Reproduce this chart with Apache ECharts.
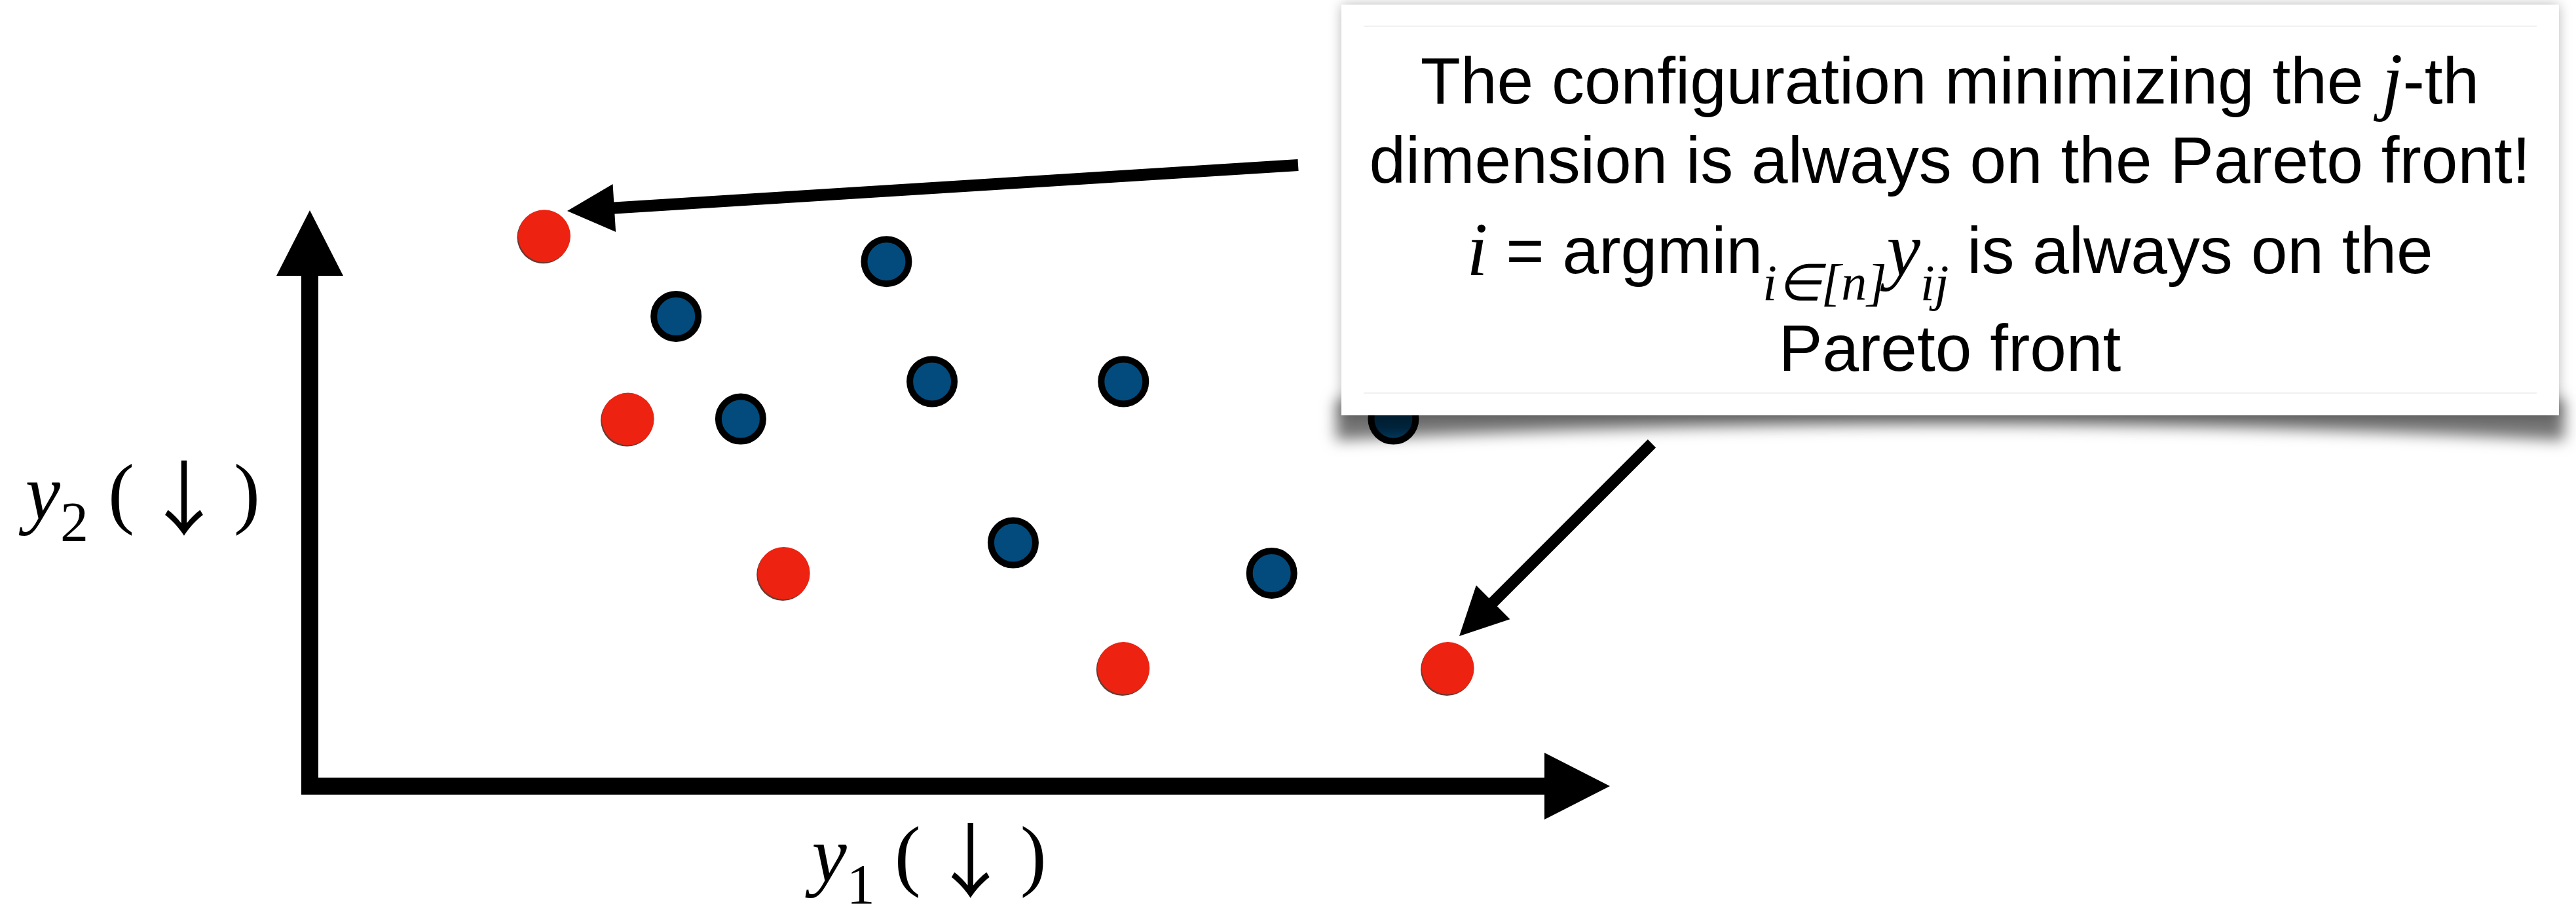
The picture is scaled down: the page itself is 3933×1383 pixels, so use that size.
<!DOCTYPE html>
<html>
<head>
<meta charset="utf-8">
<script src="https://cdn.jsdelivr.net/npm/echarts@6/dist/echarts.min.js"></script>
<style>
html, body { margin: 0; padding: 0; background: #fff; }
#main { width: 3933px; height: 1383px; }
</style>
</head>
<body>
<div id="main"></div>
<script>
// points on the pareto front (red) and dominated points (blue), [y1, y2]
var paretoY1 = [1.85, 2.51, 3.74, 6.42, 8.98];
var paretoY2 = [10.13, 6.76, 3.92, 2.17, 2.17];
var otherY1 = [2.89, 4.55, 3.40, 4.91, 6.42, 8.55, 5.55, 7.59];
var otherY2 = [8.65, 9.66, 6.76, 7.45, 7.45, 6.76, 4.48, 3.92];

// callout text
var calloutLines = [
    '{t|The configuration minimizing the }{m|j}{t|-th}',
    '{t|dimension is always on the Pareto front!}',
    '{m|i}{t| = argmin}{s|i∈[n]}{m|y}{s|ij}{t| is always on the}',
    '{t|Pareto front}'
];

function pairs(xs, ys) {
    var out = [];
    for (var i = 0; i < xs.length; i++) out.push([xs[i], ys[i]]);
    return out;
}

// filled arrow polygon from (x0,y0) to tip (x1,y1)
function arrowShape(x0, y0, x1, y1, w, hl, hw) {
    var dx = x1 - x0, dy = y1 - y0;
    var len = Math.sqrt(dx * dx + dy * dy);
    var ux = dx / len, uy = dy / len, nx = -uy, ny = ux;
    var bx = x1 - ux * hl, by = y1 - uy * hl;
    return [
        [x0 + nx * w / 2, y0 + ny * w / 2],
        [bx + nx * w / 2, by + ny * w / 2],
        [bx + nx * hw / 2, by + ny * hw / 2],
        [x1, y1],
        [bx - nx * hw / 2, by - ny * hw / 2],
        [bx - nx * w / 2, by - ny * w / 2],
        [x0 - nx * w / 2, y0 - ny * w / 2]
    ];
}

// curved shadow under the callout, drawn off screen and shifted back by its shadow
var SHIFT = 3000;
var shadowPts = [[2040, 610 + SHIFT], [3915, 610 + SHIFT]];
for (var k = 0; k <= 40; k++) {
    var sx = 3915 - k * (1875 / 40);
    var u = (sx - 2977) / 938;
    shadowPts.push([sx, 648 + 24 * u * u + SHIFT]);
}

var mathFont = 'Liberation Serif';
var textFont = 'Liberation Sans';

var boxRich = {
    t: { fontFamily: textFont, fontSize: 100, color: '#000' },
    m: { fontFamily: mathFont, fontStyle: 'italic', fontSize: 116, color: '#000' },
    s: { fontFamily: mathFont, fontStyle: 'italic', fontSize: 78, color: '#000', padding: [96, 0, 0, 0] }
};
var lineMid = [130, 251, 389, 538];

var graphics = [
    {
        type: 'polygon', z: 10, silent: true,
        shape: { points: shadowPts },
        style: { fill: '#000', shadowBlur: 22, shadowColor: 'rgba(0,0,0,0.55)', shadowOffsetY: -SHIFT }
    },
    {
        type: 'rect', z: 11, silent: true,
        shape: { x: 2048, y: 7, width: 1859, height: 627 },
        style: { fill: '#fff', shadowBlur: 18, shadowColor: 'rgba(0,0,0,0.28)' }
    },
    {
        type: 'line', z: 12, silent: true,
        shape: { x1: 2082, y1: 40, x2: 3873, y2: 40 },
        style: { stroke: '#f0f0f0', lineWidth: 2 }
    },
    {
        type: 'line', z: 12, silent: true,
        shape: { x1: 2082, y1: 600, x2: 3873, y2: 600 },
        style: { stroke: '#f0f0f0', lineWidth: 2 }
    },
    {
        type: 'polygon', z: 14, silent: true,
        shape: { points: arrowShape(1982, 252, 866, 322, 18, 72, 73) },
        style: { fill: '#000' }
    },
    {
        type: 'polygon', z: 14, silent: true,
        shape: { points: arrowShape(2522, 677, 2228, 971, 17.5, 73, 73) },
        style: { fill: '#000' }
    }
];
calloutLines.forEach(function (txt, i) {
    graphics.push({
        type: 'text', z: 13, silent: true,
        x: 2977, y: lineMid[i],
        style: {
            text: txt, rich: boxRich, fill: '#000',
            align: 'center', verticalAlign: 'middle',
            textAlign: 'center', textVerticalAlign: 'middle'
        }
    });
});

var nameRich = {
    v: { fontFamily: mathFont, fontStyle: 'italic', fontSize: 120, color: '#000' },
    s: { fontFamily: mathFont, fontSize: 86, color: '#000', padding: [86, 0, 0, 0] },
    p: { fontFamily: mathFont, fontSize: 120, color: '#000' },
    a: { fontFamily: 'Noto Sans CJK SC', fontSize: 124, color: '#000', padding: [0, 14, 0, 14] }
};

var myChart = echarts.init(document.getElementById('main'));
myChart.setOption({
    animation: false,
    backgroundColor: '#fff',
    grid: { left: 473, top: 371, right: 1525, bottom: 183, outerBoundsMode: 'none' },
    xAxis: {
        type: 'value', min: 0, max: 10,
        name: '{v|y}{s|1}{p| (}{a|↓}{p|)}',
        nameLocation: 'middle', nameGap: 27,
        nameTextStyle: { rich: nameRich, padding: [0, 44, 0, 0] },
        axisLine: {
            onZero: false,
            symbol: ['none', 'triangle'], symbolSize: [102, 100],
            lineStyle: { color: '#000', width: 26, cap: 'square' }
        },
        axisTick: { show: false }, axisLabel: { show: false }, splitLine: { show: false }
    },
    yAxis: {
        type: 'value', min: 0, max: 10,
        name: '{v|y}{s|2}{p| (}{a|↓}{p|)}',
        nameLocation: 'middle', nameGap: 76, nameRotate: 0,
        nameTextStyle: { rich: nameRich, padding: [0, 0, 51, 0] },
        axisLine: {
            onZero: false,
            symbol: ['none', 'triangle'], symbolSize: [102, 100],
            lineStyle: { color: '#000', width: 26, cap: 'square' }
        },
        axisTick: { show: false }, axisLabel: { show: false }, splitLine: { show: false }
    },
    series: [
        {
            name: 'dominated',
            type: 'scatter', clip: false,
            data: pairs(otherY1, otherY2),
            symbolSize: 68,
            itemStyle: { color: '#024b7c', borderColor: '#000', borderWidth: 10, opacity: 1 }
        },
        {
            name: 'pareto',
            type: 'scatter', clip: false,
            data: pairs(paretoY1, paretoY2),
            symbolSize: 80,
            itemStyle: {
                color: '#ee2210', opacity: 1,
                shadowColor: 'rgba(60,10,0,0.8)', shadowBlur: 0, shadowOffsetX: -1.5, shadowOffsetY: 2
            }
        }
    ],
    graphic: graphics
});
</script>
</body>
</html>
